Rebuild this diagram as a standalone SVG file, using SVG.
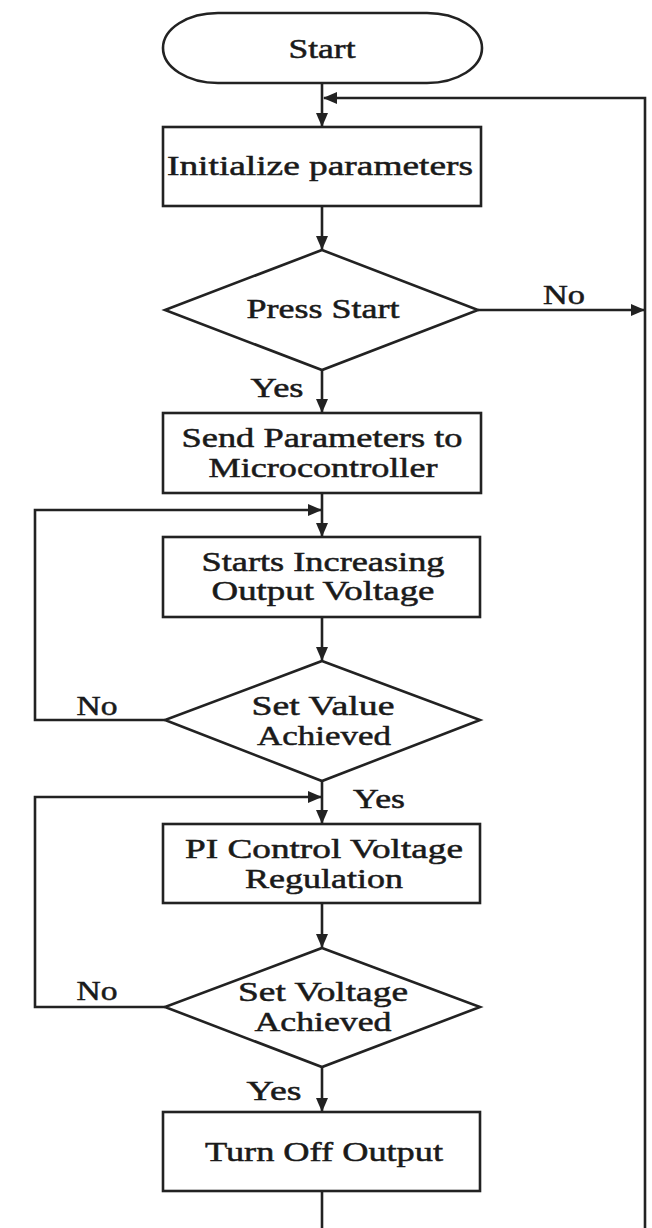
<svg xmlns="http://www.w3.org/2000/svg" width="652" height="1228" viewBox="0 0 652 1228">
<style>
.s{fill:#fff;stroke:#222;stroke-width:2.6}
.c{fill:none;stroke:#222;stroke-width:2.6}
text{font-family:"Liberation Serif","Times New Roman",serif;font-size:27px;fill:#1a1a1a;stroke:#1a1a1a;stroke-width:0.5;text-anchor:middle}
</style>
<defs>
<marker id="ah" markerUnits="userSpaceOnUse" markerWidth="14" markerHeight="12" refX="13" refY="6" orient="auto">
<path d="M0,0 L14,6 L0,12 Z" fill="#222"/>
</marker>
</defs>
<rect width="652" height="1228" fill="#fff"/>
<g id="connectors">
<path class="c" d="M322,83 V126" marker-end="url(#ah)"/>
<path class="c" d="M322,206 V249" marker-end="url(#ah)"/>
<path class="c" d="M322,370 V412" marker-end="url(#ah)"/>
<path class="c" d="M322,493 V536" marker-end="url(#ah)"/>
<path class="c" d="M322,617 V660" marker-end="url(#ah)"/>
<path class="c" d="M322,781 V823" marker-end="url(#ah)"/>
<path class="c" d="M322,903 V947" marker-end="url(#ah)"/>
<path class="c" d="M322,1067 V1111" marker-end="url(#ah)"/>
<path class="c" d="M322,1191 V1228"/>
<path class="c" d="M645,1228 V98 H324" marker-end="url(#ah)"/>
<path class="c" d="M478,310 H644" marker-end="url(#ah)"/>
<path class="c" d="M165,720 H35 V510 H321" marker-end="url(#ah)"/>
<path class="c" d="M165,1007 H35 V797 H321" marker-end="url(#ah)"/>
<text x="564" y="304" textLength="42" lengthAdjust="spacingAndGlyphs">No</text>
<text x="277" y="397" textLength="53" lengthAdjust="spacingAndGlyphs">Yes</text>
<text x="97" y="715" textLength="41" lengthAdjust="spacingAndGlyphs">No</text>
<text x="379" y="808" textLength="52" lengthAdjust="spacingAndGlyphs">Yes</text>
<text x="97" y="1000" textLength="41" lengthAdjust="spacingAndGlyphs">No</text>
<text x="274" y="1100" textLength="55" lengthAdjust="spacingAndGlyphs">Yes</text>
</g>
<g id="start">
<rect class="s" x="163" y="13" width="319" height="70" rx="55" ry="35"/>
<text x="322" y="58" textLength="67" lengthAdjust="spacingAndGlyphs">Start</text>
</g>
<g id="init">
<rect class="s" x="163" y="127" width="318" height="79"/>
<text x="320" y="175" textLength="306" lengthAdjust="spacingAndGlyphs">Initialize parameters</text>
</g>
<g id="press">
<polygon class="s" points="322,250 478,310 322,370 165,310"/>
<text x="323" y="318" textLength="153" lengthAdjust="spacingAndGlyphs">Press Start</text>
</g>
<g id="send">
<rect class="s" x="163" y="413" width="318" height="80"/>
<text x="322" y="447" textLength="281" lengthAdjust="spacingAndGlyphs">Send Parameters to</text>
<text x="323" y="477" textLength="229" lengthAdjust="spacingAndGlyphs">Microcontroller</text>
</g>
<g id="increase">
<rect class="s" x="163" y="537" width="317" height="80"/>
<text x="323" y="571" textLength="243" lengthAdjust="spacingAndGlyphs">Starts Increasing</text>
<text x="323" y="600" textLength="223" lengthAdjust="spacingAndGlyphs">Output Voltage</text>
</g>
<g id="setvalue">
<polygon class="s" points="322,661 480,720 322,781 165,720"/>
<text x="323" y="715" textLength="143" lengthAdjust="spacingAndGlyphs">Set Value</text>
<text x="324" y="745" textLength="134" lengthAdjust="spacingAndGlyphs">Achieved</text>
</g>
<g id="pi">
<rect class="s" x="163" y="824" width="317" height="79"/>
<text x="324" y="858" textLength="278" lengthAdjust="spacingAndGlyphs">PI Control Voltage</text>
<text x="324" y="888" textLength="158" lengthAdjust="spacingAndGlyphs">Regulation</text>
</g>
<g id="setvoltage">
<polygon class="s" points="322,948 480,1007 322,1067 165,1007"/>
<text x="323" y="1001" textLength="170" lengthAdjust="spacingAndGlyphs">Set Voltage</text>
<text x="323" y="1031" textLength="137" lengthAdjust="spacingAndGlyphs">Achieved</text>
</g>
<g id="turnoff">
<rect class="s" x="163" y="1112" width="317" height="79"/>
<text x="324" y="1161" textLength="238" lengthAdjust="spacingAndGlyphs">Turn Off Output</text>
</g>
</svg>
